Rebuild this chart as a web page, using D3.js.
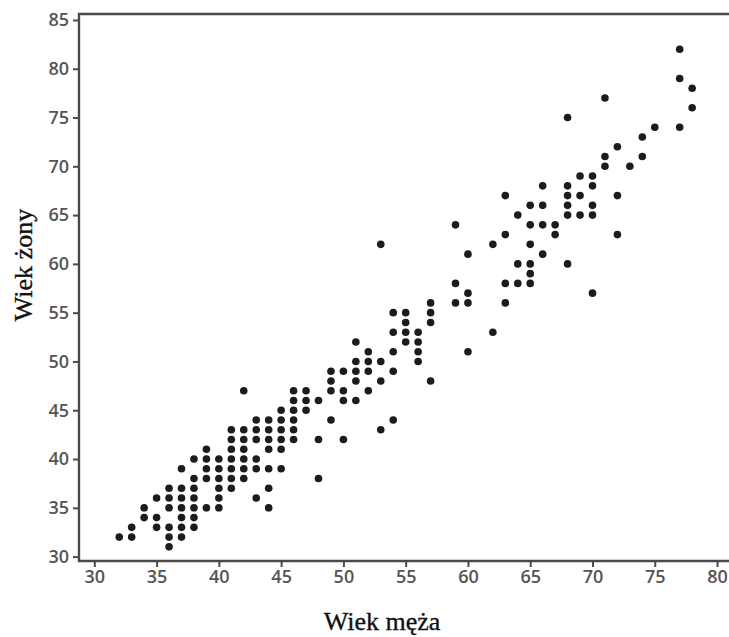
<!DOCTYPE html>
<html>
<head>
<meta charset="utf-8">
<script src="https://cdn.jsdelivr.net/npm/d3@7"></script>
<style>
  html, body { margin: 0; padding: 0; background: #fff; }
  .tick text { font-family: "Open Sans", sans-serif; font-size: 18px; font-weight: 600; fill: #555; }
  .axis-title { font-family: "Liberation Serif", "Times New Roman", serif; font-size: 26px; fill: #111; stroke: #111; stroke-width: 0.35; }
</style>
</head>
<body>
<div id="chart"></div>
<script>
// Husband's age (x) and, per husband age, the wife ages seen at it (y)
const husbandAges = [32, 33, 34, 35, 36, 37, 38, 39, 40, 41, 42, 43, 44, 45, 46, 47, 48, 49, 50,
  51, 52, 53, 54, 55, 56, 57, 59, 60, 62, 63, 64, 65, 66, 67, 68, 69, 70, 71, 72, 73, 74, 75, 77, 78]

const wifeAges = [
  [32],
  [33, 32],
  [35, 34],
  [36, 34, 33],
  [37, 36, 35, 33, 32, 31],
  [39, 37, 36, 35, 34, 33, 32],
  [40, 38, 37, 36, 35, 34, 33],
  [41, 40, 39, 38, 35],
  [40, 39, 38, 37, 36, 35],
  [43, 42, 41, 40, 39, 38, 37],
  [47, 43, 42, 41, 40, 39, 38],
  [44, 43, 42, 40, 39, 36],
  [44, 43, 42, 41, 39, 37, 35],
  [45, 44, 43, 42, 41, 39],
  [47, 46, 45, 44, 43, 42],
  [47, 46, 45],
  [46, 42, 38],
  [49, 48, 47, 44],
  [49, 47, 46, 42],
  [52, 50, 49, 48, 46],
  [51, 50, 49, 47],
  [62, 50, 48, 43],
  [55, 53, 51, 49, 44],
  [55, 54, 53, 52],
  [53, 52, 51, 50],
  [56, 55, 54, 48],
  [64, 58, 56],
  [61, 57, 56, 51],
  [62, 53],
  [67, 63, 58, 56],
  [65, 60, 58],
  [66, 64, 62, 60, 59, 58],
  [68, 66, 64, 61],
  [64, 63],
  [75, 68, 67, 66, 65, 60],
  [69, 67, 65],
  [69, 68, 66, 65, 57],
  [77, 71, 70],
  [72, 67, 63],
  [70],
  [73, 71],
  [74],
  [82, 79, 74],
  [78, 76]
]

const xTicks = [30, 35, 40, 45, 50, 55, 60, 65, 70, 75, 80]
const yTicks = [30, 35, 40, 45, 50, 55, 60, 65, 70, 75, 80, 85]

const xLabel = "Wiek męża"
const yLabel = "Wiek żony"

const points = husbandAges.flatMap((h, i) => wifeAges[i].map(w => ({ husband: h, wife: w })))

const width = 729
const height = 637
const plot = { left: 79, right: 729, top: 14, bottom: 561 }

const svg = d3.select("#chart")
  .append("svg")
  .attr("width", width)
  .attr("height", height)

const x = d3.scaleLinear()
  .domain([28.77, 80.96])
  .range([plot.left, plot.right])

const y = d3.scaleLinear()
  .domain([29.55, 85.61])
  .range([plot.bottom, plot.top])

const axisColor = "#4a4a4a"

// X axis
const xAxis = svg.append("g")
  .attr("transform", `translate(0,${plot.bottom})`)
  .call(d3.axisBottom(x).tickValues(xTicks).tickSize(6).tickPadding(3))

xAxis.select(".domain").remove()
xAxis.selectAll("line").style("stroke", axisColor).style("stroke-width", 2)

// Y axis
const yAxis = svg.append("g")
  .attr("transform", `translate(${plot.left},0)`)
  .call(d3.axisLeft(y).tickValues(yTicks).tickSize(6).tickPadding(4))

yAxis.select(".domain").remove()
yAxis.selectAll("line").style("stroke", axisColor).style("stroke-width", 2)

// Frame lines: top, left, bottom
svg.append("path")
  .attr("d", `M${plot.right},${plot.top}H${plot.left}V${plot.bottom}H${plot.right}`)
  .style("stroke", axisColor)
  .style("stroke-width", 2.4)
  .style("fill", "none")

// Points
svg.append("g")
  .selectAll("circle")
  .data(points)
  .enter()
  .append("circle")
  .attr("cx", d => x(d.husband))
  .attr("cy", d => y(d.wife))
  .attr("r", 3.8)
  .style("fill", "#1c1c1c")

// Axis titles
svg.append("text")
  .attr("class", "axis-title")
  .attr("x", 382)
  .attr("y", 630)
  .attr("text-anchor", "middle")
  .text(xLabel)

svg.append("text")
  .attr("class", "axis-title")
  .attr("transform", "translate(32,265) rotate(-90)")
  .attr("text-anchor", "middle")
  .text(yLabel)
</script>
</body>
</html>
